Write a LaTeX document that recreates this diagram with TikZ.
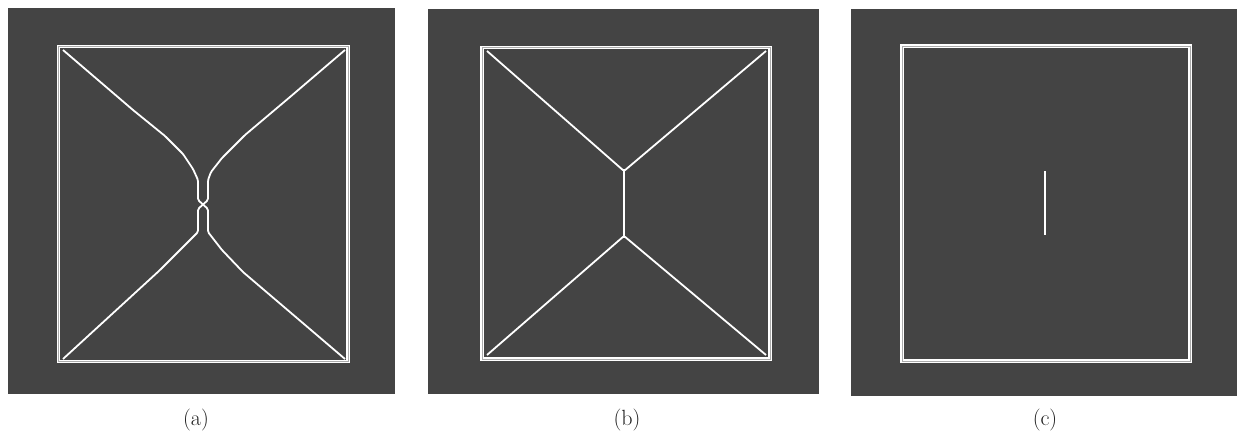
\documentclass[tikz,border=0pt]{standalone}
\usepackage{tikz}
\usetikzlibrary{positioning}
\definecolor{panelgray}{HTML}{444444}
\definecolor{capink}{HTML}{1E1E1E}
\tikzset{
  panel/.style={fill=panelgray,draw=none},
  frame/.style={draw=white,line width=1.3pt,double=white!55!panelgray,
    double distance=0.8pt},
  skel/.style={draw=white,line width=1.8pt,line join=round,rounded corners=1.5pt},
  caplabel/.style={font=\fontsize{22}{26}\selectfont,text=capink,inner sep=0pt},
}

\begin{document}
\begin{tikzpicture}[x=1pt,y=-1pt]
  \useasboundingbox (0,0) rectangle (1237,437);

  % panel (a)
  \fill[panel] (8,8) rectangle (395,394);
  \draw[frame] (58.5,46.5) rectangle (348,361.5);
  \coordinate (a-tl) at (63,50);
  \coordinate (a-tr) at (345,50);
  \coordinate (a-bl) at (63,359);
  \coordinate (a-br) at (345,359);
  \draw[skel] (a-tl) -- (133,110) -- (165,136) -- (183,154) -- (193,169)
    -- (198,180) -- (198,200) -- (208,209) -- (208,232) -- (222,250)
    -- (243,272) -- (a-br);
  \draw[skel] (a-tr) -- (290,97) -- (245,135) -- (222,158) -- (211,172)
    -- (208,180) -- (208,200) -- (198,209) -- (198,232) -- (183,247)
    -- (160,270) -- (a-bl);
  \node[caplabel] (lbla) at (196,420) {(a)};

  % panel (b)
  \fill[panel] (428,9) rectangle (819,394);
  \draw[frame] (482,47.5) rectangle (770,359);
  \coordinate (b-tl) at (487,51);
  \coordinate (b-tr) at (766,51);
  \coordinate (b-bl) at (487,355);
  \coordinate (b-br) at (766,355);
  \coordinate (b-up) at (624,171);
  \coordinate (b-dn) at (624,236);
  \draw[skel] (b-tl) -- (b-up) -- (b-tr);
  \draw[skel] (b-up) -- (b-dn);
  \draw[skel] (b-bl) -- (b-dn) -- (b-br);
  \node[caplabel] (lblb) at (627,420) {(b)};

  % panel (c)
  \fill[panel] (851,9) rectangle (1237,396);
  \draw[frame] (902,46) rectangle (1190,361);
  \coordinate (c-up) at (1045,171);
  \coordinate (c-dn) at (1045,235);
  \draw[skel] (c-up) -- (c-dn);
  \node[caplabel] (lblc) at (1045,420) {(c)};
\end{tikzpicture}
\end{document}
